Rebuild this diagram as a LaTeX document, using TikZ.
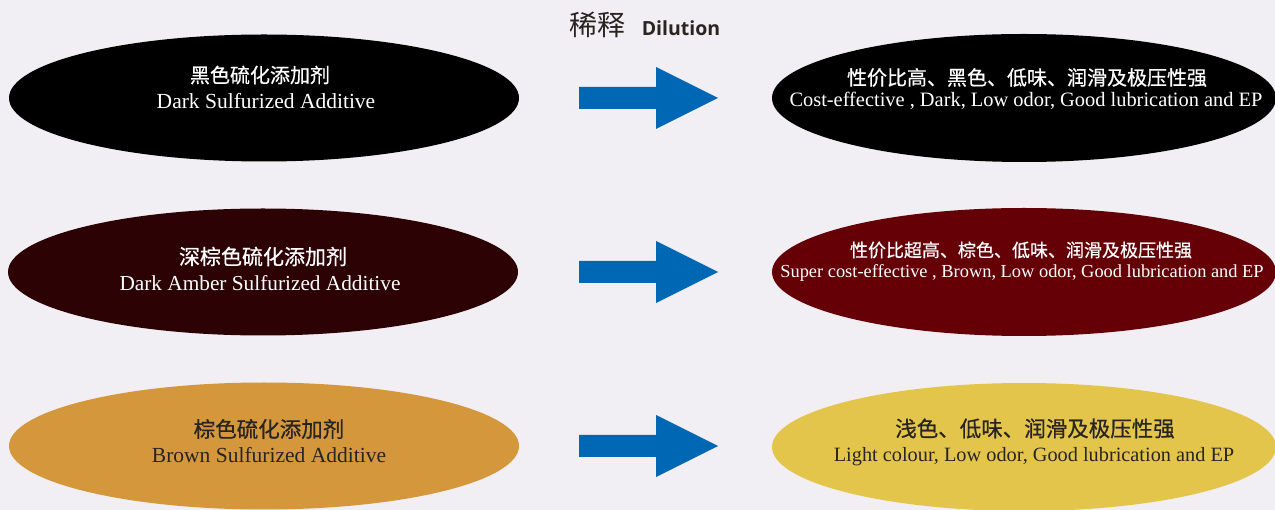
\documentclass[tikz,border=0pt]{standalone}
\usepackage{fontspec}
\setmainfont{Liberation Serif}
\newfontfamily\cjk{Noto Sans CJK SC}[FakeBold=0.6]
\newfontfamily\cjklight{Noto Sans CJK SC}
\newfontfamily\headfont{Open Sans}
\usetikzlibrary{shapes.geometric}
\definecolor{paper}{RGB}{241,239,243}
\definecolor{arrowblue}{RGB}{0,103,180}
\definecolor{amberdark}{RGB}{44,2,4}
\definecolor{brownred}{RGB}{100,0,6}
\definecolor{ochre}{RGB}{213,151,59}
\definecolor{mustard}{RGB}{228,197,75}
\definecolor{inkdark}{RGB}{40,36,34}
\newcommand{\fs}[1]{\fontsize{#1}{#1}\selectfont}
\tikzset{
  ell/.style={ellipse, minimum width=510pt, minimum height=127pt, inner sep=0pt},
  zh/.style={inner sep=0pt, anchor=center},
  en/.style={inner sep=0pt, anchor=base},
  blkarrow/.style={fill=arrowblue},
}

\begin{document}
\begin{tikzpicture}[x=1pt, y=-1pt]
  \fill[paper] (0,0) rectangle (1275,510);
  \useasboundingbox (0,0) rectangle (1275,510);

  % title
  \node[zh, text=inkdark, font=\cjklight\fs{28}] (ttlzh) at (597,25) {稀释};
  \node[en, text=inkdark, font=\headfont\bfseries\fs{19.5}] (ttlen) at (681,36) {Dilution};

  % source additives
  \node[ell, fill=black] (src1) at (264,98) {};
  \node[ell, fill=amberdark] (src2) at (263,272) {};
  \node[ell, fill=ochre] (src3) at (264,446) {};

  % results after dilution
  \node[ell, fill=black, minimum width=504pt, minimum height=128pt] (res1) at (1024,98) {};
  \node[ell, fill=brownred, minimum width=504pt, minimum height=128pt] (res2) at (1024,272) {};
  \node[ell, fill=mustard, minimum width=504pt, minimum height=128pt] (res3) at (1024,447) {};

  % arrows
  \foreach \r/\y in {1/98, 2/272, 3/446} {
    \coordinate (arr\r) at (579,\y);
    \fill[blkarrow] (arr\r) ++(0,-11) -- ++(77,0) -- ++(0,-20) -- ++(62,31)
      -- ++(-62,31) -- ++(0,-20) -- ++(-77,0) -- cycle;
  }

  % labels, row 1
  \node[zh, text=white, font=\cjk\fs{20}] (src1zh) at (260,75) {黑色硫化添加剂};
  \node[en, text=white, font=\fs{21.5}] (src1en) at (266,109) {Dark Sulfurized Additive};
  \node[zh, text=white, font=\cjk\fs{20}] (res1zh) at (1027,77.5) {性价比高、黑色、低味、润滑及极压性强};
  \node[en, text=white, font=\fs{20.4}] (res1en) at (1026,107) {Cost-effective , Dark, Low odor, Good lubrication and EP};

  % labels, row 2
  \node[zh, text=white, font=\cjk\fs{21}] (src2zh) at (263,256.5) {深棕色硫化添加剂};
  \node[en, text=white, font=\fs{21.3}] (src2en) at (260,291) {Dark Amber Sulfurized Additive};
  \node[zh, text=white, font=\cjk\fs{18}] (res2zh) at (1021,250) {性价比超高、棕色、低味、润滑及极压性强};
  \node[en, text=white, font=\fs{18.4}] (res2en) at (1022,278) {Super cost-effective , Brown, Low odor, Good lubrication and EP};

  % labels, row 3
  \node[zh, text=inkdark, font=\cjk\fs{21.5}] (src3zh) at (269,429) {棕色硫化添加剂};
  \node[en, text=inkdark, font=\fs{21.5}] (src3en) at (269,463) {Brown Sulfurized Additive};
  \node[zh, text=inkdark, font=\cjk\fs{21.5}] (res3zh) at (1035,428.5) {浅色、低味、润滑及极压性强};
  \node[en, text=inkdark, font=\fs{20.3}] (res3en) at (1034,462) {Light colour, Low odor, Good lubrication and EP};
\end{tikzpicture}
\end{document}
